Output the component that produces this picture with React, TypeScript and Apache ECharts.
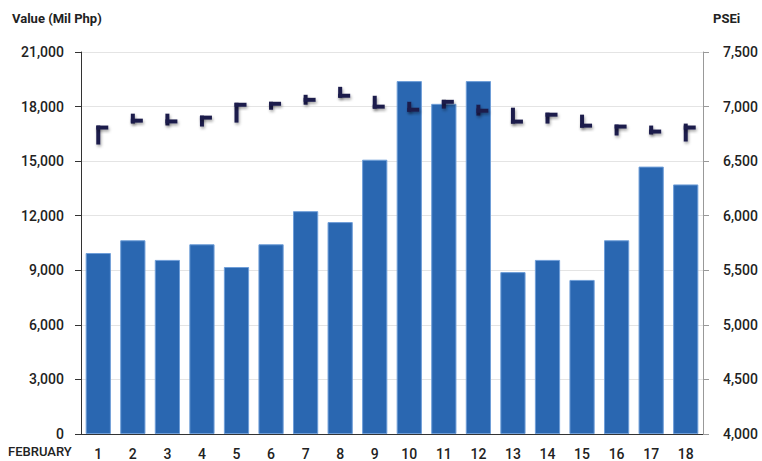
import React, { useEffect, useRef } from "react";
import * as echarts from "echarts";

const days = ["1","2","3","4","5","6","7","8","9","10","11","12","13","14","15","16","17","18"];
const values = [9950, 10650, 9570, 10430, 9180, 10430, 12250, 11650, 15080, 19400, 18150, 19400, 8900, 9570, 8470, 10650, 14700, 13720];
const pseiHigh = [6826, 6935, 6935, 6917, 7035, 7044, 7108, 7181, 7099, 7044, 7062, 7017, 6990, 6944, 6926, 6835, 6826, 6844];
const pseiLow = [6652, 6844, 6827, 6817, 6853, 6971, 7017, 7081, 6981, 6953, 6981, 6917, 6844, 6844, 6807, 6735, 6744, 6680];
const pseiClose = [6817, 6871, 6864, 6908, 7024, 7035, 7062, 7090, 6990, 6962, 7053, 6962, 6853, 6935, 6817, 6826, 6771, 6808];

const leftTicks = { min: 0, max: 21000, interval: 3000 };
const rightTicks = { min: 4000, max: 7500, interval: 500 };

const fmt = (v: number) => v.toLocaleString("en-US");
const FONT = "Roboto, 'Liberation Sans', sans-serif";

export default function App() {
  const ref = useRef<HTMLDivElement>(null);
  useEffect(() => {
    const chart = echarts.init(ref.current!, null, { renderer: "svg" });
    const hlc = days.map((_, i) => [i, pseiHigh[i], pseiLow[i], pseiClose[i]]);
    chart.setOption({
      animation: false,
      grid: { left: 81, right: 59, top: 52, bottom: 25, containLabel: false },
      graphic: [
        { type: "text", left: 12, top: 12, style: { text: "Value (Mil Php)", fontSize: 13, fontWeight: "bold", fontFamily: FONT, fill: "#222" } },
        { type: "text", left: 713, top: 12, style: { text: "PSEi", fontSize: 13, fontWeight: "bold", fontFamily: FONT, fill: "#222" } },
        { type: "text", left: 8, top: 445, style: { text: "FEBRUARY", fontSize: 13, fontWeight: 500, fontFamily: FONT, fill: "#222" } },
      ],
      xAxis: {
        type: "category",
        data: days,
        boundaryGap: true,
        axisLine: { lineStyle: { color: "#333", width: 1 } },
        axisTick: { show: false },
        axisLabel: { color: "#222", fontSize: 14, fontWeight: 500, fontFamily: FONT, margin: 13 },
      },
      yAxis: [
        {
          type: "value",
          ...leftTicks,
          axisLine: { show: true, lineStyle: { color: "#333" } },
          axisTick: { show: true, length: 6, lineStyle: { color: "#333" } },
          splitLine: { show: true, lineStyle: { color: "#e4e4e4" } },
          axisLabel: { color: "#222", fontSize: 14, fontWeight: 500, fontFamily: FONT, margin: 17, formatter: fmt },
        },
        {
          type: "value",
          position: "right",
          ...rightTicks,
          axisLine: { show: true, lineStyle: { color: "#999" } },
          axisTick: { show: true, length: 6, lineStyle: { color: "#999" } },
          splitLine: { show: false },
          axisLabel: { color: "#222", fontSize: 14, fontWeight: 500, fontFamily: FONT, margin: 20, formatter: fmt },
        },
      ],
      series: [
        {
          type: "bar",
          data: values,
          barCategoryGap: "27%",
          itemStyle: { color: "#2a67b1", borderColor: "#6f9ed8", borderWidth: 1 },
        },
        {
          type: "custom",
          yAxisIndex: 1,
          data: hlc,
          encode: { x: 0, y: [1, 2, 3] },
          z: 10,
          renderItem: (params: any, api: any) => {
            const x = api.value(0);
            const hi = api.coord([x, api.value(1)]);
            const lo = api.coord([x, api.value(2)]);
            const cl = api.coord([x, api.value(3)]);
            const w = 4;
            const style = {
              fill: "#1c1c4c",
              shadowBlur: 3,
              shadowColor: "rgba(0,0,0,0.35)",
              shadowOffsetX: 1,
              shadowOffsetY: 2,
            };
            const cy = Math.min(Math.max(cl[1] - w / 2, hi[1]), lo[1] - w);
            return {
              type: "group",
              children: [
                { type: "rect", shape: { x: hi[0] - w / 2, y: hi[1], width: w, height: lo[1] - hi[1] }, style },
                { type: "rect", shape: { x: hi[0] - w / 2, y: cy, width: 12, height: w }, style },
              ],
            };
          },
        },
      ],
    });
    return () => chart.dispose();
  }, []);
  return <div ref={ref} style={{ width: 762, height: 461, position: "absolute", left: 0, top: 0 }} />;
}
